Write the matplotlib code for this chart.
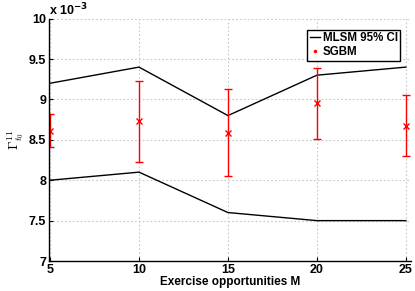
import numpy as np
import matplotlib
matplotlib.use('Agg')
import matplotlib.pyplot as plt
from matplotlib.lines import Line2D
from matplotlib.ticker import FuncFormatter

plt.rcParams['font.family'] = ['Liberation Sans', 'DejaVu Sans']
plt.rcParams['font.weight'] = 'bold'
plt.rcParams['mathtext.fontset'] = 'cm'

# data (values in units of 1e-3)
M = [5, 10, 15, 20, 25]
mlsm_upper = [9.2, 9.4, 8.8, 9.3, 9.4]
mlsm_lower = [8.0, 8.1, 7.6, 7.5, 7.5]
sgbm_mean = [8.615, 8.73, 8.59, 8.95, 8.675]
sgbm_err = [0.205, 0.5, 0.535, 0.435, 0.375]

fig = plt.figure(figsize=(4.15, 2.91), dpi=100)
ax = fig.add_axes([0.118, 0.103, 0.872, 0.833])

ax.plot(M, mlsm_upper, color='black', lw=1.0)
ax.plot(M, mlsm_lower, color='black', lw=1.0)
ax.errorbar(M, sgbm_mean, yerr=sgbm_err, fmt='x', color='red', ecolor='red',
            elinewidth=1.0, capsize=3, capthick=1.0, markersize=4, mew=1.0)

ax.set_xlim(4.94, 25.28)
ax.set_ylim(7, 10)
ax.set_xticks(M)
ax.set_yticks(np.arange(7, 10.01, 0.5))
ax.yaxis.set_major_formatter(FuncFormatter(lambda v, p: '%g' % v))
ax.grid(True, linestyle=(0, (1.5, 2)), color='#c8c8c8', lw=0.8)
ax.set_axisbelow(True)
for s in ['top', 'right']:
    ax.spines[s].set_visible(False)
ax.spines['left'].set_linewidth(1.0)
ax.spines['bottom'].set_linewidth(1.0)
ax.tick_params(direction='in', length=3, labelsize=9, pad=2)
for lab in ax.get_xticklabels() + ax.get_yticklabels():
    lab.set_fontweight('bold')

ax.set_xlabel('Exercise opportunities M', fontsize=8.5, fontweight='bold', labelpad=0)
ax.set_ylabel(r'$\Gamma^{11}_{t_0}$', fontsize=10, fontweight='normal', labelpad=2)
ax.text(0.0, 1.0, r'x 10$^{-3}$', transform=ax.transAxes, fontsize=9,
        fontweight='bold', ha='left', va='bottom',
        math_fontfamily='dejavusans')

handles = [Line2D([], [], color='black', lw=1.0),
           Line2D([], [], color='red', marker='.', markersize=3, lw=0)]
leg = ax.legend(handles, ['MLSM 95% CI', 'SGBM'], loc='upper left',
                bbox_to_anchor=(0.713, 0.955), fontsize=8.3, frameon=True,
                fancybox=False, framealpha=1, edgecolor='black',
                handlelength=0.9, handletextpad=0.2, borderpad=0.25,
                labelspacing=0.15, borderaxespad=0)
leg.get_frame().set_linewidth(1.0)
for t in leg.get_texts():
    t.set_fontweight('bold')

fig.savefig('out.png', dpi=100)
